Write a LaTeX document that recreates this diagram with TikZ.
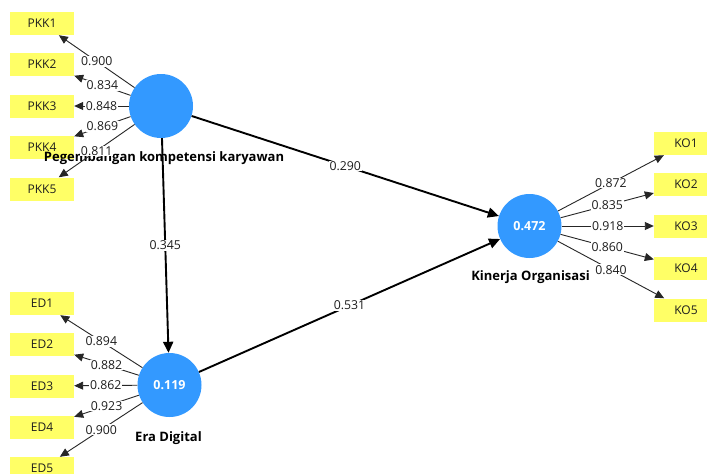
\documentclass[tikz,border=0pt]{standalone}
\usepackage{fontspec}
\setmainfont{Open Sans}
\usetikzlibrary{arrows.meta}
\definecolor{indyellow}{RGB}{255,255,102}
\definecolor{latblue}{RGB}{51,153,255}
\definecolor{txtgray}{RGB}{30,30,30}
\tikzset{
  indbox/.style={rectangle, fill=indyellow, minimum width=64pt, minimum height=23pt, inner sep=0pt, font=\fontsize{12}{14}\selectfont, text=txtgray},
  latent/.style={circle, fill=latblue, minimum size=64pt, inner sep=0pt, text=white, font=\bfseries\fontsize{12.5}{14}\selectfont},
  latlabel/.style={font=\bfseries\fontsize{13}{15}\selectfont, text=black, inner sep=0pt},
  loadline/.style={draw=black!85, line width=0.9pt, -{Triangle[length=9pt,width=8pt]}},
  pathline/.style={draw=black, line width=1.9pt, -{Triangle[length=11pt,width=10pt]}},
  coef/.style={fill=white, inner sep=0.8pt, text=txtgray, font=\fontsize{12.3}{14}\selectfont}
}
\begin{document}
\begin{tikzpicture}[x=1pt,y=-1pt]
\useasboundingbox (0,0) rectangle (707,474);
\clip (0,0) rectangle (707,474);
\fill[white] (0,0) rectangle (707,474);
% indicator boxes
\node[indbox] (pkk1) at (42,23.5) {PKK1};
\node[indbox] (pkk2) at (42,64.5) {PKK2};
\node[indbox] (pkk3) at (42,106) {PKK3};
\node[indbox] (pkk4) at (42,147.5) {PKK4};
\node[indbox] (pkk5) at (42,189) {PKK5};
\node[indbox] (ed1) at (42,303.5) {ED1};
\node[indbox] (ed2) at (42,344.5) {ED2};
\node[indbox] (ed3) at (42,386) {ED3};
\node[indbox] (ed4) at (42,427.5) {ED4};
\node[indbox] (ed5) at (42,468.5) {ED5};
\node[indbox] (ko1) at (686,143.5) {KO1};
\node[indbox] (ko2) at (686,184.5) {KO2};
\node[indbox] (ko3) at (686,226) {KO3};
\node[indbox] (ko4) at (686,268) {KO4};
\node[indbox] (ko5) at (686,310) {KO5};
% latent variables
\node[latent] (pkk) at (161,106) {};
\node[latent] (ed) at (169.5,385) {0.119};
\node[latent] (ko) at (529.5,226) {0.472};
% latent labels
\node[latlabel] (pkklab) at (164,158) {Pegembangan kompetensi karyawan};
\node[latlabel] (edlab) at (168.5,438) {Era Digital};
\node[latlabel] (kolab) at (530.5,277) {Kinerja Organisasi};
% structural paths
\draw[pathline] (pkk) -- node[coef] {0.290} (ko);
\draw[pathline] (pkk) -- node[coef] {0.345} (ed);
\draw[pathline] (ed) -- node[coef] {0.531} (ko);
% loadings PKK
\draw[loadline] (pkk) -- node[coef] {0.900} (pkk1);
\draw[loadline] (pkk) -- node[coef] {0.834} (pkk2);
\draw[loadline] (pkk) -- node[coef] {0.848} (pkk3);
\draw[loadline] (pkk) -- node[coef] {0.869} (pkk4);
\draw[loadline] (pkk) -- node[coef] {0.811} (pkk5);
% loadings ED
\draw[loadline] (ed) -- node[coef] {0.894} (ed1);
\draw[loadline] (ed) -- node[coef] {0.882} (ed2);
\draw[loadline] (ed) -- node[coef] {0.862} (ed3);
\draw[loadline] (ed) -- node[coef] {0.923} (ed4);
\draw[loadline] (ed) -- node[coef] {0.900} (ed5);
% loadings KO
\draw[loadline] (ko) -- node[coef] {0.872} (ko1);
\draw[loadline] (ko) -- node[coef] {0.835} (ko2);
\draw[loadline] (ko) -- node[coef] {0.918} (ko3);
\draw[loadline] (ko) -- node[coef] {0.860} (ko4);
\draw[loadline] (ko) -- node[coef] {0.840} (ko5);
\end{tikzpicture}
\end{document}
